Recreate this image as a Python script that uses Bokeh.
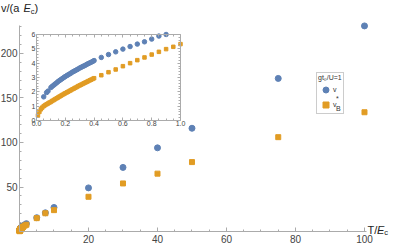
from bokeh.plotting import figure
from bokeh.models import (Range1d, LinearAxis, FixedTicker, PrintfTickFormatter,
                          CustomJSTickFormatter, Legend, LegendItem, Label)
from bokeh.embed import file_html
from bokeh.resources import INLINE

# ---------------- data ----------------
t_star_small = [0.05, 0.07, 0.08, 0.10, 0.11, 0.12, 0.13, 0.14, 0.15, 0.16, 0.17,
                0.18, 0.19, 0.20, 0.21, 0.22, 0.23, 0.24, 0.25, 0.26, 0.27, 0.28,
                0.29, 0.30, 0.31, 0.32, 0.33, 0.34, 0.35, 0.36, 0.37, 0.38, 0.39,
                0.40, 0.45, 0.50, 0.55, 0.60, 0.65, 0.70, 0.75, 0.80, 0.85, 0.90]
v_star_small = [1.65, 1.95, 2.05, 2.30, 2.39, 2.47, 2.55, 2.63, 2.72, 2.79, 2.86,
                2.93, 3.00, 3.07, 3.13, 3.19, 3.25, 3.31, 3.38, 3.43, 3.49, 3.54,
                3.60, 3.66, 3.71, 3.76, 3.81, 3.86, 3.92, 3.97, 4.02, 4.07, 4.12,
                4.18, 4.40, 4.60, 4.79, 4.98, 5.16, 5.33, 5.49, 5.68, 5.89, 6.00]
t_B_small = [0.01, 0.02, 0.03, 0.04, 0.05, 0.06, 0.07, 0.08, 0.09, 0.10, 0.11,
             0.12, 0.13, 0.14, 0.15, 0.16, 0.17, 0.18, 0.19, 0.20, 0.21, 0.22,
             0.23, 0.24, 0.25, 0.26, 0.27, 0.28, 0.29, 0.30, 0.31, 0.32, 0.33,
             0.34, 0.35, 0.36, 0.37, 0.38, 0.39, 0.40, 0.45, 0.50, 0.55, 0.60,
             0.65, 0.70, 0.75, 0.80, 0.85, 0.90, 0.95, 1.00]
v_B_small = [0.35, 0.60, 0.78, 0.90, 1.00, 1.07, 1.13, 1.19, 1.25, 1.30, 1.37,
             1.43, 1.49, 1.55, 1.61, 1.67, 1.73, 1.79, 1.85, 1.90, 1.96, 2.01,
             2.07, 2.12, 2.18, 2.23, 2.29, 2.34, 2.40, 2.45, 2.50, 2.55, 2.60,
             2.65, 2.70, 2.75, 2.80, 2.85, 2.90, 2.95, 3.16, 3.37, 3.56, 3.79,
             4.00, 4.21, 4.40, 4.60, 4.79, 4.98, 5.14, 5.33]
t_large = [1.5, 2.0, 5.0, 7.5, 10, 20, 30, 40, 50, 75, 100]
v_star_large = [7.6, 8.8, 15.5, 21, 27, 49, 72, 94, 116, 172, 231]
v_B_large = [6.6, 7.6, 15, 20.5, 24, 39, 54, 65, 78, 106, 134]

x_major = [20, 40, 60, 80, 100]
x_minor = [5, 10, 15, 25, 30, 35, 45, 50, 55, 65, 70, 75, 85, 90, 95]
y_major = [50, 100, 150, 200]
y_minor = [10, 20, 30, 40, 60, 70, 80, 90, 110, 120, 130, 140, 160, 170, 180, 190, 210, 220, 230]
ix_major = [0.0, 0.2, 0.4, 0.6, 0.8, 1.0]
ix_minor = [0.05, 0.1, 0.15, 0.25, 0.3, 0.35, 0.45, 0.5, 0.55, 0.65, 0.7, 0.75, 0.85, 0.9, 0.95]
iy_major = [0, 1, 2, 3, 4, 5, 6]
iy_minor = [0.2, 0.4, 0.6, 0.8, 1.2, 1.4, 1.6, 1.8, 2.2, 2.4, 2.6, 2.8, 3.2, 3.4, 3.6, 3.8,
            4.2, 4.4, 4.6, 4.8, 5.2, 5.4, 5.6, 5.8]
legend_title = "gt\u2080/U=1"

# ---------------- styling ----------------
BLUE = "#5E81B5"
ORANGE = "#E19C24"
AX = "#ababab"
TXT = "#444444"
FONT = "Liberation Sans"

t_star_all = t_star_small + t_large
v_star_all = v_star_small + v_star_large
t_B_all = t_B_small + t_large
v_B_all = v_B_small + v_B_large

W, H = 395, 245
p = figure(width=W, height=H, output_backend="svg", toolbar_location=None,
           x_range=Range1d(-5.507, 108.99), y_range=Range1d(-15.73, 259.55),
           x_axis_type=None, y_axis_type=None,
           min_border_left=0, min_border_right=0, min_border_top=0, min_border_bottom=0)
p.outline_line_color = None
p.background_fill_color = "white"
p.extra_x_ranges = {"ix": Range1d(-0.25, 2.4931)}
p.extra_y_ranges = {"iy": Range1d(-8.721, 8.372)}


def style(ax, size, maj_in=4, min_in=2, standoff=2):
    ax.axis_line_color = AX
    ax.major_tick_line_color = AX
    ax.minor_tick_line_color = AX
    ax.major_tick_in = maj_in
    ax.major_tick_out = 0
    ax.minor_tick_in = min_in
    ax.minor_tick_out = 0
    ax.major_label_text_font_size = size
    ax.major_label_text_color = TXT
    ax.major_label_text_font = FONT
    ax.major_label_standoff = standoff


xax = LinearAxis(fixed_location=0, bounds=(0, 100.6),
                 ticker=FixedTicker(ticks=x_major, minor_ticks=x_minor))
style(xax, "10px", standoff=3)
p.add_layout(xax, "below")
yax = LinearAxis(fixed_location=0, bounds=(0, 231.5),
                 ticker=FixedTicker(ticks=y_major, minor_ticks=y_minor))
style(yax, "10px", standoff=2)
p.add_layout(yax, "left")

blank = CustomJSTickFormatter(code="return ''")
ib = LinearAxis(x_range_name="ix", y_range_name="iy", fixed_location=0, bounds=(0, 1),
                ticker=FixedTicker(ticks=ix_major, minor_ticks=ix_minor),
                formatter=PrintfTickFormatter(format="%.1f"))
style(ib, "7px", 3, 2, 1)
p.add_layout(ib, "below")
il = LinearAxis(x_range_name="ix", y_range_name="iy", fixed_location=0, bounds=(0, 6),
                ticker=FixedTicker(ticks=iy_major, minor_ticks=iy_minor))
style(il, "7px", 3, 2, 1)
p.add_layout(il, "left")
it = LinearAxis(x_range_name="ix", y_range_name="iy", fixed_location=6, bounds=(0, 1),
                ticker=FixedTicker(ticks=ix_major, minor_ticks=ix_minor), formatter=blank)
style(it, "7px", 3, 2, 1)
p.add_layout(it, "above")
ir = LinearAxis(x_range_name="ix", y_range_name="iy", fixed_location=1, bounds=(0, 6),
                ticker=FixedTicker(ticks=iy_major, minor_ticks=iy_minor), formatter=blank)
style(ir, "7px", 3, 2, 1)
p.add_layout(ir, "right")

r_star = p.scatter(t_star_all, v_star_all, marker="circle", size=6, color=BLUE)
r_B = p.scatter(t_B_all, v_B_all, marker="square", size=5, color=ORANGE)
p.scatter(t_star_small, v_star_small, marker="circle", size=4.5, color=BLUE,
          x_range_name="ix", y_range_name="iy")
p.scatter(t_B_small, v_B_small, marker="square", size=3.5, color=ORANGE,
          x_range_name="ix", y_range_name="iy")

legend = Legend(items=[LegendItem(label="v", renderers=[r_star]),
                       LegendItem(label="v", renderers=[r_B])],
                location=(316, 131), title=legend_title,
                title_text_font_size="7px", title_text_font_style="normal",
                title_text_font=FONT, title_text_color="#333333", title_standoff=1,
                label_text_font_size="7px", label_text_font=FONT, label_text_color="#333333",
                glyph_width=15, glyph_height=15, label_height=15, label_width=6,
                label_standoff=0, spacing=-4, padding=1, margin=0,
                border_line_color="#999999", border_line_width=1,
                background_fill_alpha=0)
p.add_layout(legend)


def txt(x, y, s, size="11px", style="normal", color="#222222"):
    p.add_layout(Label(x=x, y=y, x_units="screen", y_units="screen", text=s,
                       text_font=FONT, text_font_size=size, text_font_style=style,
                       text_color=color, text_baseline="middle", text_align="left",
                       level="overlay"))


# y axis label v/(a E_c)
txt(0.5, 237.5, "v/(a ")
txt(23, 237.5, "E", style="italic")
txt(30.3, 234.5, "c", size="7.5px")
txt(34, 237.5, ")")
# x axis label T/E_c
txt(367, 16, "T/")
txt(376.5, 16, "E", style="italic")
txt(383.8, 13, "c", size="7.5px")
# legend subscripts
txt(335.5, 147.5, "*", size="7px", color="#333333")
txt(335.5, 137.5, "B", size="7px", color="#333333")

open("out.html", "w").write(file_html(p, INLINE))
